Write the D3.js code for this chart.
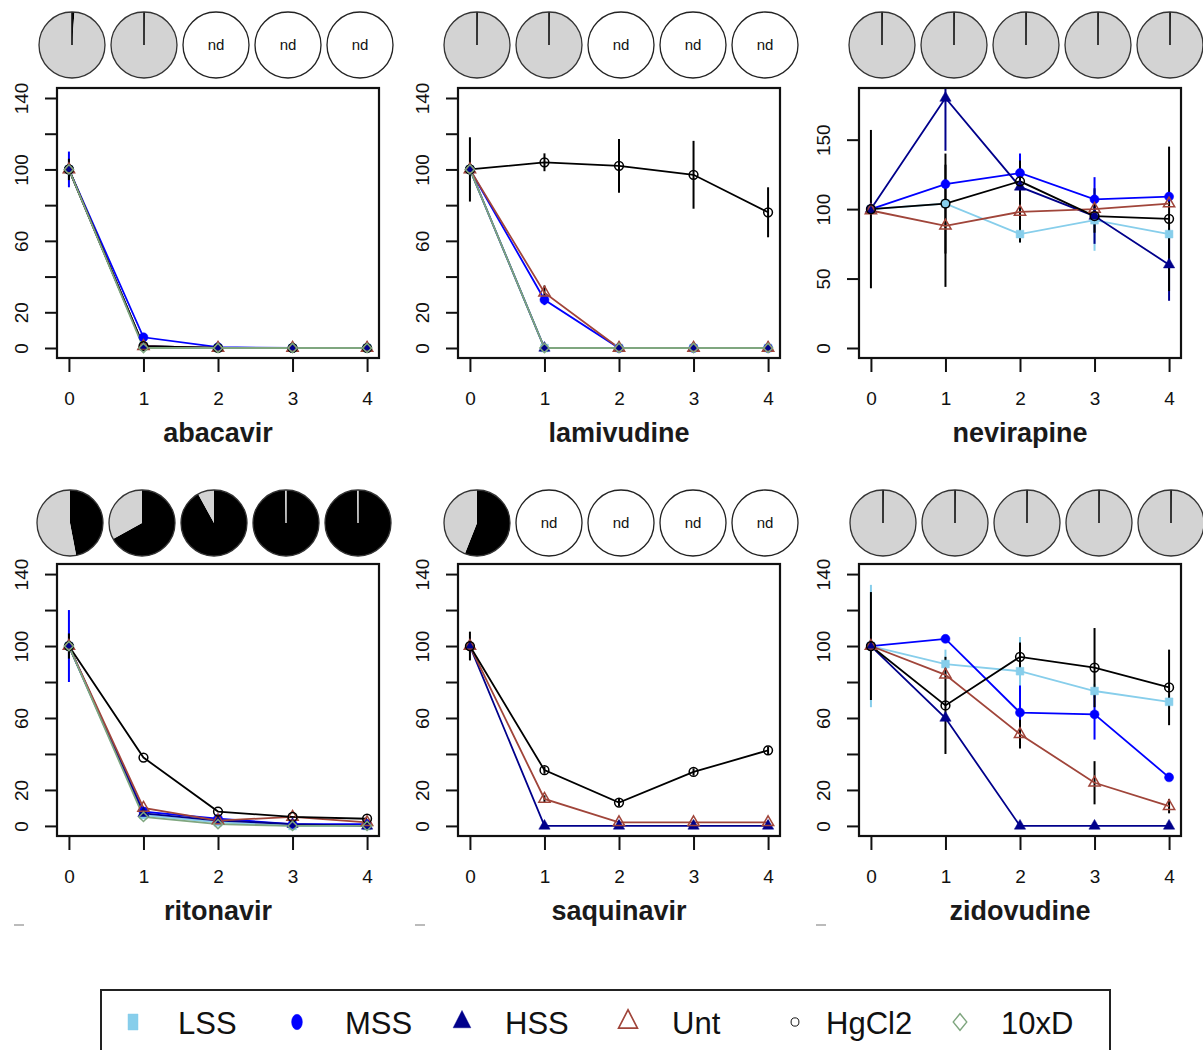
<!DOCTYPE html>
<html><head><meta charset="utf-8">
<script src="https://cdn.jsdelivr.net/npm/d3@7"></script>
<style>
body{margin:0;background:#fff;}
text{font-family:"Liberation Sans",Arial,sans-serif;}
</style>
</head><body>
<svg id="c" width="1203" height="1050"></svg>
<script>
// ---------------- DATA ----------------
const timepoints = [0, 1, 2, 3, 4];
const seriesNames = ["LSS", "MSS", "HSS", "Unt", "HgCl2", "10xD"];
const drugNames = ["abacavir", "lamivudine", "nevirapine", "ritonavir", "saquinavir", "zidovudine"];
const yTicks140 = [0, 20, 40, 60, 80, 100, 120, 140];
const yLabels140 = [0, 20, 60, 100, 140];
const yTicks180 = [0, 50, 100, 150];
const yLabels180 = [0, 50, 100, 150];

// values per series (order of seriesNames); null = series not shown
const abacavirValues = [
  [100, 1, 0, 0, 0],
  [100, 6, 0.5, 0, 0],
  [100, 1, 0, 0, 0],
  [100, 1, 0, 0, 0],
  [100, 1, 0, 0, 0],
  [100, 0, 0, 0, 0]
];
const abacavirErrors = [
  [0, 0, 0, 0, 0], [10, 0, 0, 0, 0], [0, 0, 0, 0, 0],
  [0, 0, 0, 0, 0], [6, 0, 0, 0, 0], [0, 0, 0, 0, 0]
];
const lamivudineValues = [
  [100, 0, 0, 0, 0],
  [100, 27, 0, 0, 0],
  [100, 0, 0, 0, 0],
  [100, 31, 0, 0, 0],
  [100, 104, 102, 97, 76],
  [100, 0, 0, 0, 0]
];
const lamivudineErrors = [
  [0, 0, 0, 0, 0], [0, 3, 0, 0, 0], [0, 0, 0, 0, 0],
  [0, 4, 0, 0, 0], [18, 5, 15, 19, 14], [0, 0, 0, 0, 0]
];
const nevirapineValues = [
  [100, 104, 82, 92, 82],
  [100, 118, 126, 107, 109],
  [100, 180, 116, 95, 60],
  [99, 88, 98, 100, 104],
  [100, 104, 120, 95, 93],
  null
];
const nevirapineErrors = [
  [0, 0, 6, 22, 0], [0, 0, 14, 16, 0], [0, 38, 0, 20, 26],
  [0, 44, 22, 0, 0], [57, 36, 15, 12, 52], null
];
const ritonavirValues = [
  [100, 6, 2, 0, 0],
  [100, 8, 4, 1, 1],
  [100, 7, 3, 1, 0],
  [100, 10, 3, 5, 2],
  [100, 38, 8, 5, 4],
  [100, 5, 1, 0, 0]
];
const ritonavirErrors = [
  [0, 0, 0, 0, 0], [20, 0, 0, 0, 0], [0, 0, 0, 0, 0],
  [0, 0, 0, 0, 0], [7, 0, 0, 0, 0], [0, 0, 0, 0, 0]
];
const saquinavirValues = [
  null,
  null,
  [100, 0, 0, 0, 0],
  [100, 15, 2, 2, 2],
  [100, 31, 13, 30, 42],
  null
];
const saquinavirErrors = [
  null, null, [0, 0, 0, 0, 0],
  [0, 2, 1, 1, 1], [8, 2, 2, 2, 2], null
];
const zidovudineValues = [
  [100, 90, 86, 75, 69],
  [100, 104, 63, 62, 27],
  [100, 60, 0, 0, 0],
  [100, 84, 51, 24, 11],
  [100, 67, 94, 88, 77],
  null
];
const zidovudineErrors = [
  [34, 8, 19, 4, 4], [0, 0, 15, 14, 0], [0, 0, 0, 0, 0],
  [0, 0, 8, 12, 4], [30, 27, 8, 22, 21], null
];

// pie fractions (black share) per time point; null = "nd"
const abacavirPies = [0.012, 0.004, null, null, null];
const lamivudinePies = [0.004, 0.004, null, null, null];
const nevirapinePies = [0.004, 0.004, 0.004, 0.004, 0.004];
const ritonavirPies = [0.47, 0.67, 0.92, 0.996, 0.996];
const saquinavirPies = [0.56, null, null, null, null];
const zidovudinePies = [0.004, 0.004, 0.004, 0.004, 0.004];
const ndLabel = "nd";

// ---------------- STYLE / LAYOUT ----------------
const seriesColor = ["#87CEEB", "#0000FF", "#00008B", "#A0453A", "#000000", "#7FA67F"];
const errColor    = ["#87CEEB", "#0000FF", "#00008B", "#000000", "#000000", "#7FA67F"];
const diamond = { draw(ctx, size) { const r = Math.sqrt(size) / 2 * 1.3; ctx.moveTo(0, -r); ctx.lineTo(r, 0); ctx.lineTo(0, r); ctx.lineTo(-r, 0); ctx.closePath(); } };
const seriesShape = [d3.symbolSquare, d3.symbolCircle, d3.symbolTriangle, d3.symbolTriangle, d3.symbolCircle, diamond];
const seriesSize  = [60, 64, 55, 55, 60, 50];
const seriesFilled = [true, true, true, false, false, false];
const pieColors = ["#000000", "#D3D3D3"];

const colLeft = [57, 458, 859];
const rowTop = [88, 564];
const rowH = [270, 272];
const boxW = 322;
const pieStart = [[72, 477, 882], [70, 477, 883]];
const pieCY = [45, 523];
const pieStep = 72;
const pieR = 33;

const panels = [
  { values: abacavirValues, errors: abacavirErrors, pies: abacavirPies, ymax: 140, ticks: yTicks140, labels: yLabels140 },
  { values: lamivudineValues, errors: lamivudineErrors, pies: lamivudinePies, ymax: 140, ticks: yTicks140, labels: yLabels140 },
  { values: nevirapineValues, errors: nevirapineErrors, pies: nevirapinePies, ymax: 180, ticks: yTicks180, labels: yLabels180 },
  { values: ritonavirValues, errors: ritonavirErrors, pies: ritonavirPies, ymax: 140, ticks: yTicks140, labels: yLabels140 },
  { values: saquinavirValues, errors: saquinavirErrors, pies: saquinavirPies, ymax: 140, ticks: yTicks140, labels: yLabels140 },
  { values: zidovudineValues, errors: zidovudineErrors, pies: zidovudinePies, ymax: 140, ticks: yTicks140, labels: yLabels140 }
];

const svg = d3.select("#c");
const defs = svg.append("defs");

panels.forEach((p, i) => {
  const col = i % 3, row = Math.floor(i / 3);
  const left = colLeft[col], top = rowTop[row], h = rowH[row];
  const x = d3.scaleLinear().domain([-0.16, 4.16]).range([left, left + boxW]);
  const y = d3.scaleLinear().domain([-0.04 * p.ymax, 1.04 * p.ymax]).range([top + h, top]);
  const g = svg.append("g");

  // pies
  const pxs = d3.scaleLinear().domain([0, 4]).range([pieStart[row][col], pieStart[row][col] + 4 * pieStep]);
  const pieGen = d3.pie().sort(null).startAngle(0).endAngle(2 * Math.PI);
  const arc = d3.arc().innerRadius(0).outerRadius(pieR);
  p.pies.forEach((f, k) => {
    const pg = g.append("g").attr("transform", `translate(${pxs(k)},${pieCY[row]})`);
    if (f === null) {
      pg.append("circle").attr("r", pieR).attr("fill", "#fff").attr("stroke", "#222").attr("stroke-width", 1.3);
      pg.append("text").attr("text-anchor", "middle").attr("dy", "0.35em").attr("font-size", 15).attr("fill", "#111").text(ndLabel);
    } else {
      const arcs = pieGen([f, 1 - f]);
      pg.selectAll("path").data(arcs).join("path").attr("d", arc)
        .attr("fill", (d, j) => pieColors[j]);
      // very thin slices drawn as a radial stroke at 12 o'clock so they stay visible
      arcs.forEach((a, j) => {
        const frac = a.endAngle - a.startAngle;
        if (frac < 0.1) {
          pg.append("line").attr("x1", 0).attr("y1", 0)
            .attr("x2", 0).attr("y2", -pieR)
            .attr("stroke", j === 0 ? "#111" : "#D3D3D3").attr("stroke-width", 1.6);
        }
      });
      pg.append("circle").attr("r", pieR).attr("fill", "none").attr("stroke", "#333").attr("stroke-width", 1.3);
    }
  });

  // clip
  const cid = "clip" + i;
  defs.append("clipPath").attr("id", cid).append("rect").attr("x", left).attr("y", top).attr("width", boxW).attr("height", h);
  const dg = g.append("g").attr("clip-path", `url(#${cid})`);

  // error bars
  p.values.forEach((vals, s) => {
    if (!vals) return;
    const errs = p.errors[s];
    vals.forEach((v, k) => {
      const e = errs[k];
      if (!e) return;
      dg.append("line").attr("x1", x(timepoints[k])).attr("x2", x(timepoints[k]))
        .attr("y1", y(v - e)).attr("y2", y(v + e))
        .attr("stroke", errColor[s]).attr("stroke-width", 2);
    });
  });
  // lines
  const line = d3.line().x((d, k) => x(timepoints[k])).y(d => y(d));
  p.values.forEach((vals, s) => {
    if (!vals) return;
    dg.append("path").attr("d", line(vals)).attr("fill", "none")
      .attr("stroke", seriesColor[s]).attr("stroke-width", 1.8);
  });
  // markers
  p.values.forEach((vals, s) => {
    if (!vals) return;
    const sym = d3.symbol().type(seriesShape[s]).size(seriesSize[s]);
    vals.forEach((v, k) => {
      dg.append("path").attr("d", sym())
        .attr("transform", `translate(${x(timepoints[k])},${y(v)})`)
        .attr("fill", seriesFilled[s] ? seriesColor[s] : "none")
        .attr("stroke", seriesColor[s]).attr("stroke-width", seriesFilled[s] ? 0.5 : 1.5);
    });
  });

  // box
  g.append("rect").attr("x", left).attr("y", top).attr("width", boxW).attr("height", h)
    .attr("fill", "none").attr("stroke", "#111").attr("stroke-width", 2.2);

  // y axis
  const ya = g.append("g").attr("transform", `translate(${left},0)`)
    .call(d3.axisLeft(y).tickValues(p.ticks).tickSize(12).tickSizeOuter(0)
      .tickFormat(d => p.labels.includes(d) ? d : ""));
  ya.select(".domain").remove();
  ya.selectAll(".tick line").attr("stroke", "#111").attr("stroke-width", 2);
  ya.selectAll(".tick text").attr("x", null).attr("dy", null)
    .attr("transform", "translate(-29,0) rotate(-90)").attr("text-anchor", "middle")
    .attr("font-size", 19).attr("fill", "#111").attr("font-family", "Liberation Sans, Arial, sans-serif");

  // x axis
  const xa = g.append("g").attr("transform", `translate(0,${top + h})`)
    .call(d3.axisBottom(x).tickValues(timepoints).tickSize(14).tickSizeOuter(0).tickFormat(d3.format("d")));
  xa.select(".domain").remove();
  xa.selectAll(".tick line").attr("stroke", "#111").attr("stroke-width", 2);
  xa.selectAll(".tick text").attr("y", 47).attr("dy", null)
    .attr("font-size", 19).attr("fill", "#111").attr("font-family", "Liberation Sans, Arial, sans-serif");

  // title
  g.append("text").attr("x", left + boxW / 2).attr("y", top + h + 84)
    .attr("text-anchor", "middle").attr("font-size", 27).attr("font-weight", "bold")
    .attr("fill", "#1a1a1a").text(drugNames[i]);

  if (row === 1) {
    g.append("line").attr("x1", col * 401 + 14).attr("x2", col * 401 + 24)
      .attr("y1", 925).attr("y2", 925).attr("stroke", "#bbb").attr("stroke-width", 2);
  }
});

// ---------------- LEGEND ----------------
const legend = svg.append("g");
legend.append("rect").attr("x", 101).attr("y", 990).attr("width", 1009).attr("height", 80)
  .attr("fill", "#fff").attr("stroke", "#222").attr("stroke-width", 2);
const legSymX = [133, 297, 462, 628, 795, 960];
const legTextX = [178, 345, 505, 672, 826, 1001];
const legScale = [[1.25, 2.0], [1.2, 1.7], [1.5, 1.7], [1.6, 1.8], [0.9, 0.95], [1.3, 1.6]];
const legSize = [64, 64, 60, 60, 60, 64];
seriesNames.forEach((n, s) => {
  const sym = d3.symbol().type(seriesShape[s]).size(legSize[s]);
  legend.append("path").attr("d", sym())
    .attr("transform", `translate(${legSymX[s]},1022) scale(${legScale[s][0]},${legScale[s][1]})`)
    .attr("fill", seriesFilled[s] ? seriesColor[s] : "none")
    .attr("stroke", seriesColor[s]).attr("stroke-width", seriesFilled[s] ? 0.3 : 1);
  legend.append("text").attr("x", legTextX[s]).attr("y", 1034).attr("font-size", 31)
    .attr("fill", "#111").text(n);
});
</script>
</body></html>
